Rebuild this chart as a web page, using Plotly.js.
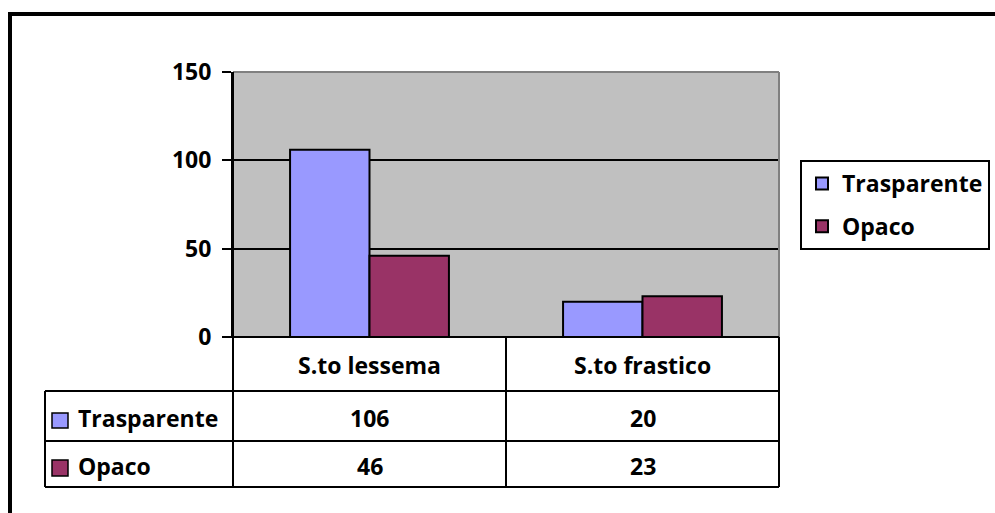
<!DOCTYPE html>
<html><head><meta charset="utf-8">
<script src="https://cdn.plot.ly/plotly-3.0.1.min.js"></script>
<style>html,body{margin:0;padding:0;background:#fff}</style>
</head><body><div id="chart" style="width:995px;height:513px"></div>
<script>
const categories = ["S.to lessema", "S.to frastico"];
const seriesNames = ["Trasparente", "Opaco"];
const trasparente = [106, 20];
const opaco = [46, 23];
const yTickVals = [0, 50, 100, 150];
const seriesColors = ["#9999FF", "#993366"];

const values = [trasparente, opaco];

// pixel helpers (plot area: x 233..779, y 72..337)
const W = 995, H = 513;
const L = 233, R = 779, T = 72, B = 337;
const px = v => (v - L) / (R - L);
const py = v => (B - v) / (B - T);

const traces = seriesNames.map((n, i) => ({
  type: "bar",
  name: n,
  legendgroup: "g" + i,
  x: categories,
  y: values[i],
  marker: {color: seriesColors[i], line: {color: "#000", width: 2}},
  hoverinfo: "x+y+name"
}));

const rowCenters = [418, 466];
const annotations = [];
// category header row
categories.forEach(c => annotations.push({
  x: c, xref: "x", y: py(365), yref: "paper", text: c, showarrow: false,
  xanchor: "center", yanchor: "middle"
}));
values.forEach((vals, i) => {
  annotations.push({
    x: px(76), xref: "paper", y: py(rowCenters[i]), yref: "paper",
    text: seriesNames[i], showarrow: false, xanchor: "left", yanchor: "middle"
  });
  vals.forEach((v, j) => annotations.push({
    x: categories[j], xref: "x", y: py(rowCenters[i]), yref: "paper",
    text: String(v), showarrow: false, xanchor: "center", yanchor: "middle"
  }));
});

const line = (x0, y0, x1, y1, color, width, xref) => ({
  type: "line", xref: xref || "paper", yref: "paper",
  x0: x0, y0: y0, x1: x1, y1: y1, layer: "above",
  line: {color: color, width: width}
});

const shapes = [
  // outer frame
  line(px(8), py(14), px(995), py(14), "#000", 4),
  line(px(10), py(12), px(10), py(513), "#000", 4),
  // plot area gray border top/right
  line(0, 1, 1, 1, "#808080", 2),
  line(1, 1, 1, 0, "#808080", 2),
  // left axis extended through table
  line(0, 1, 0, py(487), "#000", 2),
  // zero line
  line(px(224), 0, 1, 0, "#000", 2),
  // table horizontals
  line(px(45), py(391), 1, py(391), "#000", 2),
  line(px(45), py(441), 1, py(441), "#000", 2),
  line(px(45), py(487), 1, py(487), "#000", 2),
  // table verticals
  line(px(45), py(391), px(45), py(487), "#000", 2),
  line(0.5, 0, 0.5, py(487), "#000", 2, "x"),
  line(1, 0, 1, py(487), "#000", 2),
  // row legend keys
  {type: "rect", xref: "paper", yref: "paper", x0: px(52), x1: px(68), y0: py(413), y1: py(428),
   fillcolor: seriesColors[0], line: {color: "#000", width: 1.5}, layer: "above"},
  {type: "rect", xref: "paper", yref: "paper", x0: px(52), x1: px(68), y0: py(460), y1: py(476),
   fillcolor: seriesColors[1], line: {color: "#000", width: 1.5}, layer: "above"}
];

const layout = {
  width: W, height: H,
  margin: {l: L, r: W - R, t: T, b: H - B, pad: 0, autoexpand: false},
  paper_bgcolor: "#fff",
  plot_bgcolor: "#C0C0C0",
  font: {family: "'Open Sans', sans-serif", size: 23, color: "#000", weight: 700},
  barmode: "group",
  bargap: 0.418,
  bargroupgap: 0,
  showlegend: true,
  legend: {
    xref: "container", yref: "container",
    x: 800 / W, xanchor: "left", y: 1 - 160 / H, yanchor: "top",
    bordercolor: "#000", borderwidth: 2, bgcolor: "#fff",
    traceorder: "grouped", tracegroupgap: 10,
    font: {size: 23, weight: 700}
  },
  xaxis: {
    type: "category", range: [-0.5, 1.5], showticklabels: false,
    ticks: "", showgrid: false, zeroline: false, showline: false, fixedrange: true
  },
  yaxis: {
    range: [0, 150], tickvals: yTickVals, ticktext: yTickVals.map(String),
    ticks: "outside", ticklen: 9, tickwidth: 2, tickcolor: "#000",
    showgrid: true, gridcolor: "#000", gridwidth: 2,
    zeroline: false, showline: true, linecolor: "#000", linewidth: 2,
    ticklabelstandoff: 6, fixedrange: true
  },
  annotations: annotations,
  shapes: shapes
};

Plotly.newPlot("chart", traces, layout, {displayModeBar: false, staticPlot: true});
</script></body></html>
